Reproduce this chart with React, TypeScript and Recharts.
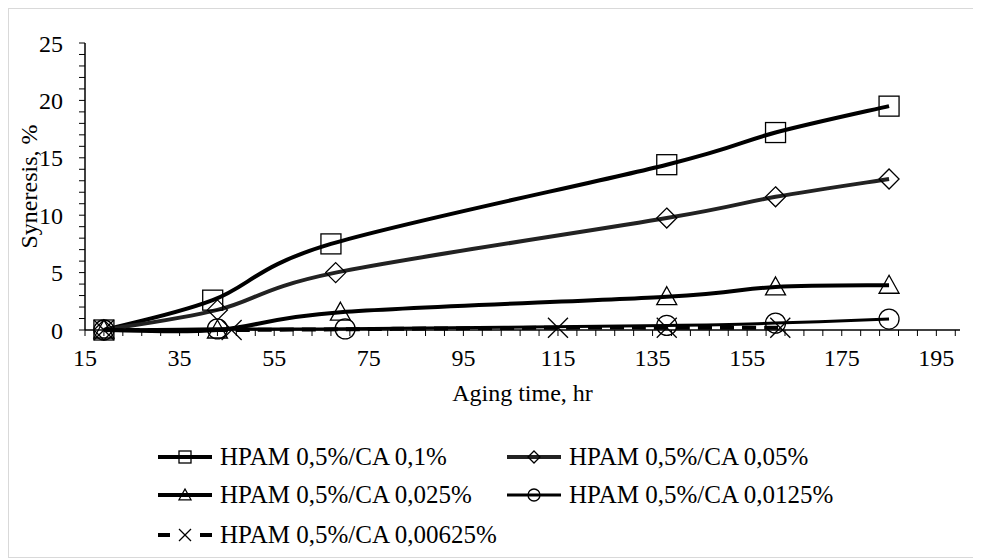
import { LineChart, Line, XAxis, YAxis, Legend, Label } from 'recharts'

const FONT = 'Liberation Serif, Tinos, Times New Roman, Times, serif'

// aging time (hr) and syneresis (%) for each HPAM/CA ratio
const hours01 = [19, 42, 67, 138, 161, 185]
const syn01 = [0, 2.6, 7.5, 14.4, 17.2, 19.5]
const hours005 = [19, 43, 68, 138, 161, 185]
const syn005 = [0, 1.75, 5.0, 9.75, 11.6, 13.15]
const hours0025 = [19, 43, 69, 138, 161, 185]
const syn0025 = [0, 0, 1.55, 2.9, 3.75, 3.9]
const hours00125 = [19, 43, 70, 138, 161, 185]
const syn00125 = [0, 0.1, 0.1, 0.4, 0.6, 0.95]
const hours000625 = [19, 46, 115, 138, 162]
const syn000625 = [0, 0, 0.2, 0.2, 0.2]

const seriesNames = [
  'HPAM 0,5%/CA 0,1%',
  'HPAM 0,5%/CA 0,05%',
  'HPAM 0,5%/CA 0,025%',
  'HPAM 0,5%/CA 0,0125%',
  'HPAM 0,5%/CA 0,00625%',
]

const xMajor = [15, 35, 55, 75, 95, 115, 135, 155, 175, 195]
const yMajor = [0, 5, 10, 15, 20, 25]

const xTicks: number[] = []
for (let t = 15; t <= 200; t += 4) xTicks.push(t)
const yTicks: number[] = []
for (let t = 0; t <= 25; t += 1) yTicks.push(t)

const toPoints = (xs: number[], ys: number[]) => xs.map((x, i) => ({ x, y: ys[i] }))

// Excel-like smoothed line (Catmull-Rom through the points, drawn as beziers)
const excelSmooth: any = (context: any) => {
  let pts: [number, number][] = []
  return {
    areaStart() {},
    areaEnd() {},
    lineStart() {
      pts = []
    },
    point(x: number, y: number) {
      pts.push([+x, +y])
    },
    lineEnd() {
      const n = pts.length
      if (!n) return
      context.moveTo(pts[0][0], pts[0][1])
      for (let i = 0; i < n - 1; i++) {
        const p0 = pts[Math.max(i - 1, 0)]
        const p1 = pts[i]
        const p2 = pts[i + 1]
        const p3 = pts[Math.min(i + 2, n - 1)]
        context.bezierCurveTo(
          p1[0] + (p2[0] - p0[0]) / 6,
          p1[1] + (p2[1] - p0[1]) / 6,
          p2[0] - (p3[0] - p1[0]) / 6,
          p2[1] - (p3[1] - p1[1]) / 6,
          p2[0],
          p2[1],
        )
      }
    },
  }
}

type Kind = 'square' | 'diamond' | 'triangle' | 'circle' | 'cross'

const series: { name: string; data: { x: number; y: number }[]; kind: Kind; stroke: string; width: number; dash?: string }[] = [
  { name: seriesNames[0], data: toPoints(hours01, syn01), kind: 'square', stroke: '#000', width: 4 },
  { name: seriesNames[1], data: toPoints(hours005, syn005), kind: 'diamond', stroke: '#222', width: 4 },
  { name: seriesNames[2], data: toPoints(hours0025, syn0025), kind: 'triangle', stroke: '#000', width: 4 },
  { name: seriesNames[3], data: toPoints(hours00125, syn00125), kind: 'circle', stroke: '#000', width: 3 },
  { name: seriesNames[4], data: toPoints(hours000625, syn000625), kind: 'cross', stroke: '#000', width: 4, dash: '14 8' },
]

// legend slots (chart coords)
const legendSlots = [
  { left: 149, top: 448 },
  { left: 498, top: 448 },
  { left: 149, top: 486 },
  { left: 498, top: 486 },
  { left: 149, top: 526 },
]

function Marker({ kind, cx, cy, r }: { kind: Kind; cx: number; cy: number; r: number }) {
  const s = { fill: 'none', stroke: '#000', strokeWidth: 1.3 }
  if (kind === 'square') return <rect x={cx - r} y={cy - r} width={r * 2} height={r * 2} {...s} />
  if (kind === 'diamond')
    return <polygon points={`${cx},${cy - r} ${cx + r},${cy} ${cx},${cy + r} ${cx - r},${cy}`} {...s} />
  if (kind === 'triangle')
    return <polygon points={`${cx},${cy - r} ${cx + r},${cy + r * 0.8} ${cx - r},${cy + r * 0.8}`} {...s} />
  if (kind === 'circle') return <circle cx={cx} cy={cy} r={r} {...s} />
  return (
    <g {...s}>
      <line x1={cx - r} y1={cy - r} x2={cx + r} y2={cy + r} />
      <line x1={cx - r} y1={cy + r} x2={cx + r} y2={cy - r} />
    </g>
  )
}

function LegendBox() {
  return (
    <div style={{ position: 'relative', width: 969, height: 548 }}>
      {series.map((s, i) => {
        const slot = legendSlots[i]
        return (
          <div
            key={s.name}
            style={{
              position: 'absolute',
              left: slot.left,
              top: slot.top - 16,
              height: 32,
              display: 'flex',
              alignItems: 'center',
              whiteSpace: 'nowrap',
              fontFamily: FONT,
              fontSize: 25,
              color: '#000',
            }}
          >
            <svg width={56} height={24} style={{ marginRight: 6 }}>
              <line x1={0} y1={12} x2={54} y2={12} stroke={s.stroke} strokeWidth={s.width}
                strokeDasharray={s.dash ? '12 30' : undefined} />
              {s.dash && <line x1={42} y1={12} x2={54} y2={12} stroke={s.stroke} strokeWidth={s.width} />}
              <Marker kind={s.kind} cx={27} cy={12} r={6} />
            </svg>
            {s.name}
          </div>
        )
      })}
    </div>
  )
}

export default function App() {
  return (
    <div style={{ width: 969, height: 548, border: '1px solid #d9d9d9', background: '#fff', fontFamily: FONT }}>
      <LineChart width={969} height={548} margin={{ top: 34, right: 18, left: 0, bottom: 147 }}
        style={{ fontFamily: FONT }}>
        <XAxis
          type="number"
          dataKey="x"
          domain={[15, 200]}
          ticks={xTicks}
          interval={0}
          allowDataOverflow
          tickFormatter={(v: number) => (xMajor.includes(v) ? String(v) : '')}
          height={80}
          tickSize={6}
          tickMargin={13}
          axisLine={{ stroke: '#000', strokeWidth: 1.5 }}
          tickLine={{ stroke: '#000' }}
          tick={{ fill: '#000', fontSize: 24, fontFamily: FONT }}
        >
          <Label value="Aging time, hr" position="insideBottom" offset={9}
            style={{ fill: '#000', fontSize: 24, fontFamily: FONT }} />
        </XAxis>
        <YAxis
          type="number"
          domain={[0, 25]}
          ticks={yTicks}
          interval={0}
          tickFormatter={(v: number) => (yMajor.includes(v) ? String(v) : '')}
          width={76}
          tickSize={6}
          tickMargin={16}
          axisLine={{ stroke: '#000', strokeWidth: 1.5 }}
          tickLine={{ stroke: '#000' }}
          tick={{ fill: '#000', fontSize: 24, fontFamily: FONT }}
        >
          <Label value="Syneresis, %" angle={-90} position="insideLeft" offset={19}
            style={{ fill: '#000', fontSize: 24, fontFamily: FONT, textAnchor: 'middle' }} />
        </YAxis>
        <Legend
          layout="horizontal"
          verticalAlign="middle"
          align="center"
          wrapperStyle={{ left: 0, top: 0, width: 969, height: 548, pointerEvents: 'none' }}
          content={() => <LegendBox />}
        />
        {series.map((s) => (
          <Line
            key={s.name}
            name={s.name}
            data={s.data}
            dataKey="y"
            type={excelSmooth}
            stroke={s.stroke}
            strokeWidth={s.width}
            strokeDasharray={s.dash}
            isAnimationActive={false}
            activeDot={false}
            dot={(p: any) => <Marker key={`${s.kind}-${p.index}`} kind={s.kind} cx={p.cx} cy={p.cy} r={10} />}
          />
        ))}
      </LineChart>
    </div>
  )
}
